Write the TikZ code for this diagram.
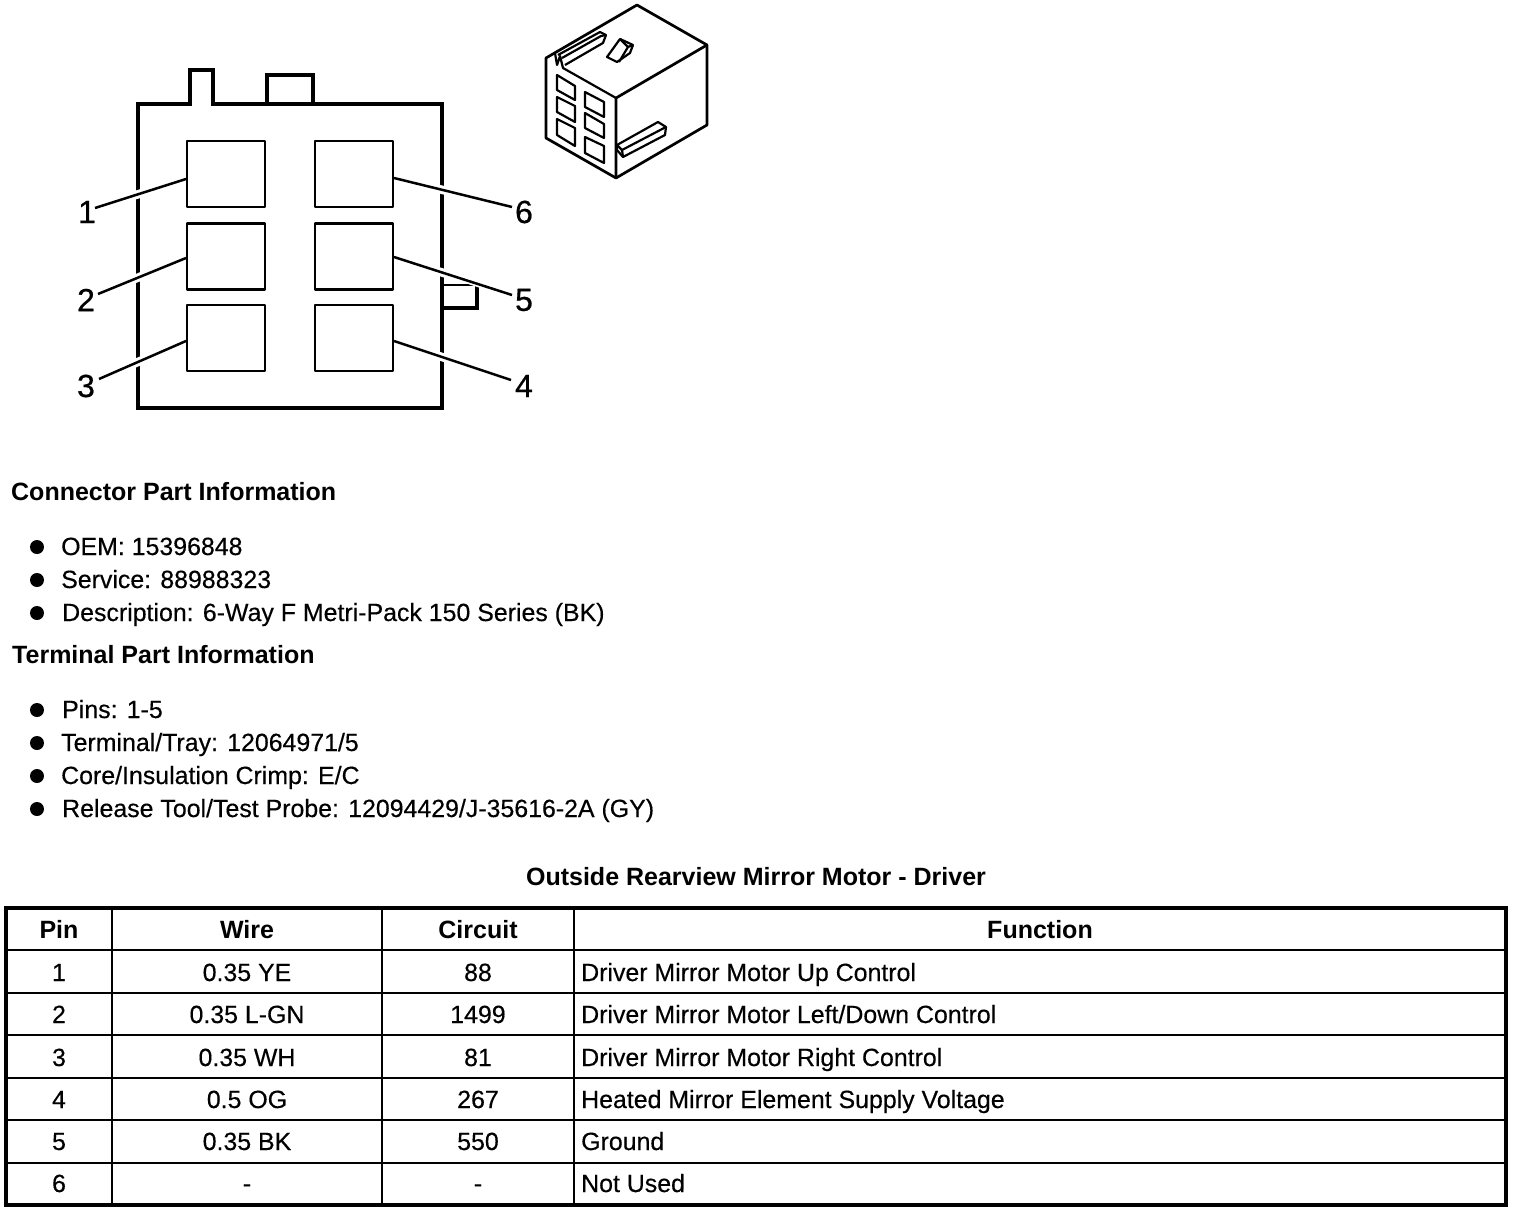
\documentclass[tikz,border=0pt]{standalone}
\usepackage{fontspec}
\setmainfont{Liberation Sans}[FakeBold=0.35]
\newfontfamily\plainface{Liberation Sans}[FakeBold=0.35]
\newfontfamily\boldface{Liberation Sans Bold}
\newfontfamily\digitface{Liberation Sans}[FakeBold=0.6]
\usetikzlibrary{calc}
\tikzset{
 x=1pt,y=-1pt,
 body/.style={draw=black,line width=3.4pt,line join=miter},
 pinbox/.style={draw=black,line width=2.4pt,fill=white,line join=round,minimum width=78pt,minimum height=66pt,inner sep=0pt},
 leader/.style={draw=black,line width=2.5pt},
 halo/.style={draw=white,line width=8.5pt},
 iso/.style={draw=black,line width=2.2pt,line join=round},
 isoheavy/.style={draw=black,line width=2.7pt,line join=round},
 pinlabel/.style={font=\fontsize{32}{32}\digitface,inner sep=0pt,anchor=center},
 head/.style={font=\fontsize{25}{28}\boldface,inner sep=0pt,anchor=base west},
 item/.style={font=\fontsize{24.9}{28}\plainface,inner sep=0pt,anchor=base west},
 cell/.style={font=\fontsize{24.9}{28}\plainface,inner sep=0pt,anchor=base},
 cellw/.style={font=\fontsize{24.9}{28}\plainface,inner sep=0pt,anchor=base west},
 cellh/.style={font=\fontsize{25}{28}\boldface,inner sep=0pt,anchor=base},
 dot/.style={circle,fill=black,inner sep=0pt,minimum size=14pt},
 rowline/.style={draw=black,line width=2.2pt},
 colline/.style={draw=black,line width=1.3pt},
 frame/.style={draw=black,line width=3.6pt},
}
\begin{document}
\begin{tikzpicture}
\useasboundingbox (0,0) rectangle (1520,1212);
\fill[white] (0,0) rectangle (1520,1212);
% housing
\draw[body] (138,408) -- (138,104) -- (190,104) -- (190,70) -- (213,70) -- (213,104) -- (267,104) -- (267,75) -- (313,75) -- (313,104) -- (442,104) -- (442,408) -- cycle;
\draw[body] (267,104) -- (313,104);
\draw[draw=black,line width=2.4pt] (442,285) -- (477,285);
\draw[body] (477,285) -- (477,308) -- (442,308);
% pins
\node[pinbox] (p1) at (226,174) {};
\node[pinbox] (p2) at (226,256.5) {};
\node[pinbox] (p3) at (226,338) {};
\node[pinbox] (p4) at (354,338) {};
\node[pinbox] (p5) at (354,256.5) {};
\node[pinbox] (p6) at (354,174) {};
\node[pinlabel] (l1) at (87,212) {1};
\node[pinlabel] (l2) at (86,300) {2};
\node[pinlabel] (l3) at (86,386) {3};
\node[pinlabel] (l4) at (524,386) {4};
\node[pinlabel] (l5) at (524,300) {5};
\node[pinlabel] (l6) at (524,212) {6};
\coordinate (a1) at (95,208); \coordinate (b1) at (186,179);
\coordinate (a2) at (98,294); \coordinate (b2) at (186,258);
\coordinate (a3) at (99,379); \coordinate (b3) at (186,341);
\coordinate (a4) at (511,380); \coordinate (b4) at (394,341);
\coordinate (a5) at (512,295); \coordinate (b5) at (394,257);
\coordinate (a6) at (512,207); \coordinate (b6) at (394,178);
\draw[halo] ($(a1)!0.41!(b1)$) -- ($(a1)!0.53!(b1)$);
\draw[halo] ($(a2)!0.40!(b2)$) -- ($(a2)!0.50!(b2)$);
\draw[halo] ($(a3)!0.40!(b3)$) -- ($(a3)!0.50!(b3)$);
\draw[halo] ($(a4)!0.54!(b4)$) -- ($(a4)!0.64!(b4)$);
\draw[halo] ($(a5)!0.54!(b5)$) -- ($(a5)!0.64!(b5)$);
\draw[halo] ($(a6)!0.54!(b6)$) -- ($(a6)!0.64!(b6)$);
\draw[draw=white,line width=6pt] ($(a5)!0.24!(b5)$) -- ($(a5)!0.36!(b5)$);
\foreach \i in {1,...,6}{\draw[leader] (a\i) -- (b\i);}
% isometric view
\draw[isoheavy] (546,58) -- (637,5) -- (707,45) -- (707,125) -- (616,178) -- (546,138) -- cycle;
\draw[isoheavy] (616,178) -- (616,98) -- (707,45);
% top notch and rail
\draw[iso] (616,98) -- (563,68) -- (560,56) -- (557,65) -- (555,53);
\draw[iso] (558,55) -- (600,32) -- (606,35) -- (603,43) -- (565,65);
\draw[iso] (562,58) -- (601,36) -- (606,35);
% latch
\draw[iso] (607,57) -- (620,39) -- (633,45) -- (630,53) -- (617,62) -- cycle;
\draw[iso] (620,39) -- (628,47) -- (619,62);
\draw[iso] (628,47) -- (633,45);
% side rail
\draw[iso] (617,145) -- (658,122) -- (666,127) -- (665,135) -- (623,157) -- (617,150) -- cycle;
\draw[iso] (617,145) -- (622,150) -- (666,127);
\draw[iso] (622,150) -- (623,157);
% front cavities
\draw[iso] (557,75) -- (575,86) -- (575,100) -- (557,90) -- cycle;
\draw[iso] (557,97) -- (575,106) -- (575,122) -- (557,112) -- cycle;
\draw[iso] (557,119) -- (575,128) -- (575,146) -- (557,135) -- cycle;
\draw[iso] (585,92) -- (604,102) -- (604,117) -- (585,107) -- cycle;
\draw[iso] (585,113) -- (604,124) -- (604,138) -- (585,128) -- cycle;
\draw[iso] (585,137) -- (604,146) -- (604,163) -- (585,153) -- cycle;
% text blocks
\node[head] (h1) at (11,500) {Connector Part Information};
\node[dot] (d1) at (37,547) {};
\node[item] (t1) at (61,555) {OEM: 15396848};
\node[dot] (d2) at (37,580) {};
\node[item] (t2) at (61,588) {Service: 88988323};
\node[dot] (d3) at (37,613) {};
\node[item] (t3) at (62,621) {Description: 6-Way F Metri-Pack 150 Series (BK)};
\node[head] (h2) at (12,663) {Terminal Part Information};
\node[dot] (d4) at (37,710) {};
\node[item] (t4) at (62,718) {Pins: 1-5};
\node[dot] (d5) at (37,743) {};
\node[item] (t5) at (61,751) {Terminal/Tray: 12064971/5};
\node[dot] (d6) at (37,776) {};
\node[item] (t6) at (61,784) {Core/Insulation Crimp: E/C};
\node[dot] (d7) at (37,809) {};
\node[item] (t7) at (62,817) {Release Tool/Test Probe: 12094429/J-35616-2A (GY)};
\node[cellh] (title) at (756,885) {Outside Rearview Mirror Motor - Driver};
% table
\draw[frame] (6,908) rectangle (1506,1205);
\foreach \y in {950,993,1035,1078,1120}{\draw[rowline] (6,\y) -- (1506,\y);}
\draw[colline] (6,1163) -- (1506,1163);
\foreach \x in {112,382,574}{\draw[colline] (\x,908) -- (\x,1205);}
\node[cellh] at (59,938) {Pin};
\node[cellh] at (247,938) {Wire};
\node[cellh] at (478,938) {Circuit};
\node[cellh] at (1040,938) {Function};
\node[cell] at (59,981) {1};
\node[cell] at (247,981) {0.35 YE};
\node[cell] at (478,981) {88};
\node[cellw] at (581,981) {Driver Mirror Motor Up Control};
\node[cell] at (59,1023) {2};
\node[cell] at (247,1023) {0.35 L-GN};
\node[cell] at (478,1023) {1499};
\node[cellw] at (581,1023) {Driver Mirror Motor Left/Down Control};
\node[cell] at (59,1066) {3};
\node[cell] at (247,1066) {0.35 WH};
\node[cell] at (478,1066) {81};
\node[cellw] at (581,1066) {Driver Mirror Motor Right Control};
\node[cell] at (59,1108) {4};
\node[cell] at (247,1108) {0.5 OG};
\node[cell] at (478,1108) {267};
\node[cellw] at (581,1108) {Heated Mirror Element Supply Voltage};
\node[cell] at (59,1150) {5};
\node[cell] at (247,1150) {0.35 BK};
\node[cell] at (478,1150) {550};
\node[cellw] at (581,1150) {Ground};
\node[cell] at (59,1192) {6};
\node[cell] at (247,1192) {-};
\node[cell] at (478,1192) {-};
\node[cellw] at (581,1192) {Not Used};
\end{tikzpicture}
\end{document}
